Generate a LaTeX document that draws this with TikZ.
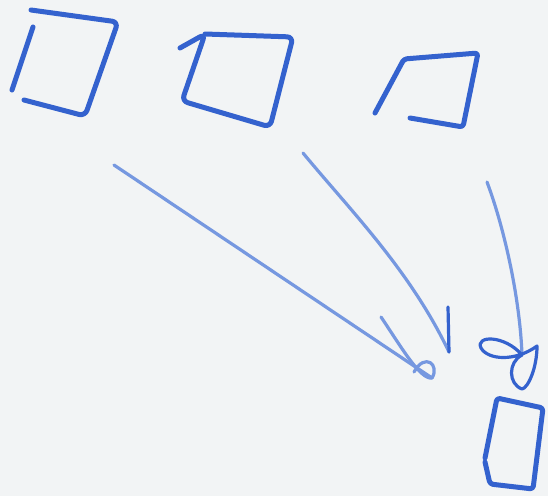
\documentclass[tikz,border=0pt]{standalone}
\usepackage{xcolor}
\usepackage{tikz}
\usetikzlibrary{positioning,calc}
\definecolor{board}{RGB}{242,244,245}
\definecolor{marker}{RGB}{52,98,206}
\definecolor{markerlight}{RGB}{118,152,224}
\tikzset{
    stroke/.style={
        draw=marker,
        line width=5pt,
        line cap=round,
        line join=round,
        rounded corners=6pt
    },
    flow/.style={
        draw=markerlight,
        line width=3.2pt,
        line cap=round,
        line join=round
    }
}

\begin{document}
\begin{tikzpicture}[x=1pt,y=-1pt]
\fill[board] (0,0) rectangle (548,496);
\useasboundingbox (0,0) rectangle (548,496);

% first box
\coordinate (a-tl) at (31,10);
\coordinate (a-tr) at (118,22);
\coordinate (a-br) at (85,116);
\coordinate (a-bl) at (24,100);
\draw[stroke] (a-tl) -- (a-tr) -- (a-br) -- (a-bl);
\draw[stroke] (33,27) -- (12,90);

% second box
\coordinate (b-tl) at (205,34);
\coordinate (b-tr) at (293,37);
\coordinate (b-br) at (270,127);
\coordinate (b-bl) at (182,101);
\draw[stroke] (180,48) -- (b-tl) -- (b-bl) -- (b-br) -- (b-tr) -- (b-tl);

% third box
\coordinate (c-tl) at (404,59);
\coordinate (c-tr) at (478,53);
\coordinate (c-br) at (463,127);
\coordinate (c-bl) at (410,118);
\draw[stroke, rounded corners=3pt] (375,113) -- (c-tl) -- (c-tr) -- (c-br) -- (c-bl);

% target box
\coordinate (d-tl) at (497,398);
\coordinate (d-tr) at (543,408);
\coordinate (d-br) at (533,489);
\coordinate (d-bl) at (490,484);
\draw[stroke, rounded corners=3pt] (485,458) -- (d-tl) -- (d-tr) -- (d-br) -- (d-bl) -- (485,462);

% arrows
\coordinate (from-a) at (114,165);
\coordinate (to-a) at (432,378);
\coordinate (from-b) at (303,153);
\coordinate (to-b) at (449,352);
\coordinate (from-c) at (487,182);
\coordinate (to-c) at (522,355);

\draw[flow] (from-a) -- (to-a);
\draw[flow] (381,317) .. controls (400,345) and (420,380) .. (to-a)
    .. controls (440,365) and (425,352) .. (414,372);
\draw[flow] (from-b) .. controls (350,210) and (410,270) .. (to-b);
\draw[flow, draw=marker] (448,307) -- (to-b);
\draw[flow] (from-c) .. controls (505,230) and (520,300) .. (to-c);
\draw[flow, draw=marker] (to-c) .. controls (505,335) and (475,335) .. (481,348)
    .. controls (488,360) and (515,362) .. (537,346)
    .. controls (537,368) and (528,388) .. (522,389)
    .. controls (508,384) and (508,362) .. (to-c);
\end{tikzpicture}
\end{document}
